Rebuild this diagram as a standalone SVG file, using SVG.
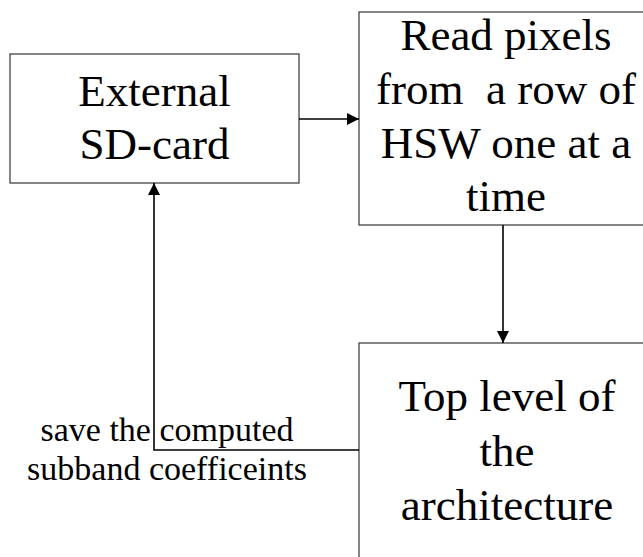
<svg xmlns="http://www.w3.org/2000/svg" width="643" height="557" viewBox="0 0 643 557">
<style>
.box{fill:#fff;stroke:#444;stroke-width:1.3}
.big{font-size:45px;fill:#000;text-anchor:middle}
.lbl{font-size:34px;fill:#000;text-anchor:middle}
.conn{fill:none;stroke:#000;stroke-width:1.6}
</style>
<defs>
<marker id="arr" viewBox="0 0 12 12" refX="12" refY="6" markerWidth="12" markerHeight="12" markerUnits="userSpaceOnUse" orient="auto">
<path d="M0,0 L12,6 L0,12 Z" fill="#000"/>
</marker>
</defs>
<rect width="643" height="557" fill="#fff"/>
<g font-family="Liberation Serif, Times New Roman, DejaVu Serif, serif">
<g id="sdcard">
<rect class="box" x="10" y="54" width="289" height="129"/>
<text class="big" x="154.5" y="106">External</text>
<text class="big" x="154.5" y="159">SD-card</text>
</g>
<g id="readpixels">
<rect class="box" x="359" y="12" width="300" height="213"/>
<text class="big" x="506" y="50">Read pixels</text>
<text class="big" x="506" y="104">from&#160; a row of</text>
<text class="big" x="506" y="158">HSW one at a</text>
<text class="big" x="506" y="211">time</text>
</g>
<g id="toplevel">
<rect class="box" x="359" y="343" width="300" height="230"/>
<text class="big" x="507" y="411">Top level of</text>
<text class="big" x="507" y="466">the</text>
<text class="big" x="507" y="520">architecture</text>
</g>
<g id="connectors">
<path class="conn" d="M299,119 L359,119" marker-end="url(#arr)"/>
<path class="conn" d="M503,225 L503,343" marker-end="url(#arr)"/>
<path class="conn" d="M359,450 L154,450 L154,183" marker-end="url(#arr)"/>
<text class="lbl" x="167" y="441">save the computed</text>
<text class="lbl" x="167" y="480">subband coefficeints</text>
</g>
</g>
</svg>
